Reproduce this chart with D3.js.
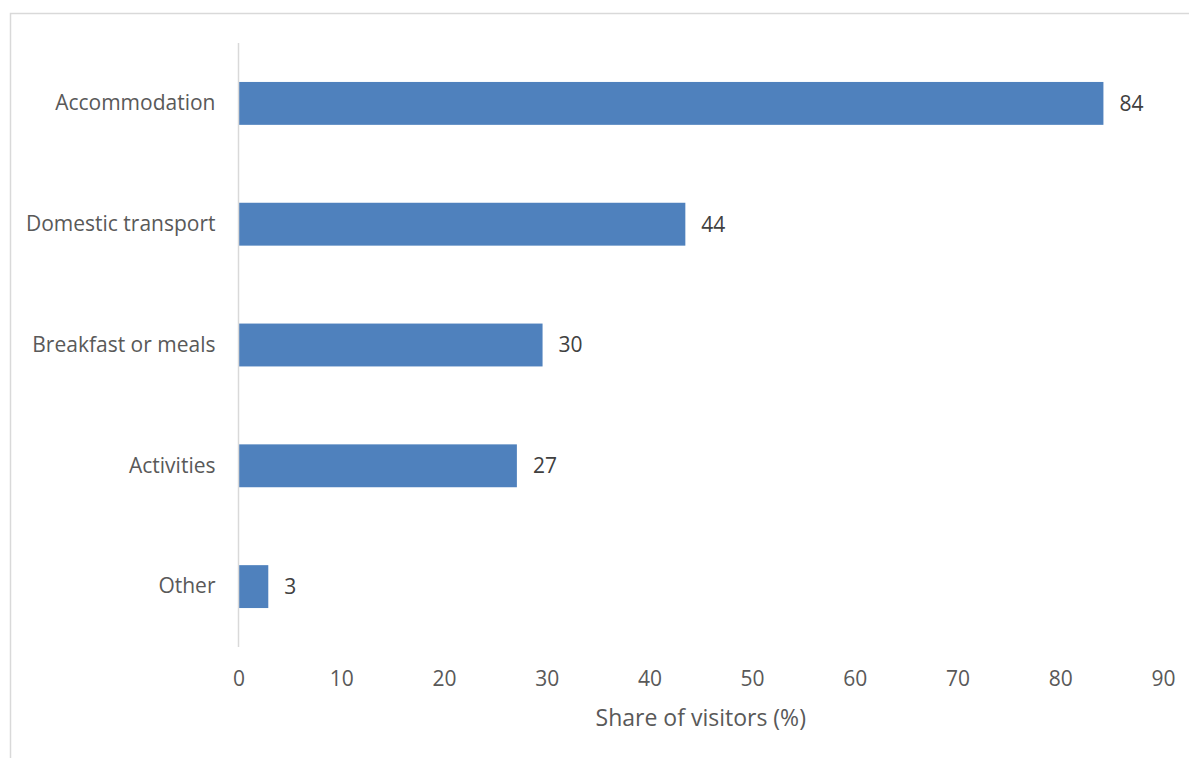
<!DOCTYPE html>
<html>
<head>
<meta charset="utf-8">
<script src="https://cdn.jsdelivr.net/npm/d3@7"></script>
<style>
  html, body { margin: 0; padding: 0; background: #fff; }
  svg { display: block; }
</style>
</head>
<body>
<svg id="chart" width="1189" height="758"></svg>
<script>
const categories = ["Accommodation", "Domestic transport", "Breakfast or meals", "Activities", "Other"];
const values = [84.2, 43.5, 29.6, 27.1, 2.9];
const valueLabels = ["84", "44", "30", "27", "3"];
const xTicks = [0, 10, 20, 30, 40, 50, 60, 70, 80, 90];
const xTitle = "Share of visitors (%)";

(function () {
const svg = d3.select("#chart");
const W = 1189, H = 758;
const font = "'Open Sans', 'Noto Sans', sans-serif";

// outer chart border (extends beyond the visible area)
svg.append("rect")
  .attr("x", 10.5).attr("y", 13.5)
  .attr("width", W + 20).attr("height", H + 20)
  .attr("fill", "none").attr("stroke", "#d9d9d9").attr("stroke-width", 1.5);

const pLeft = 238.5, pRight = 1163, pTop = 43, pBottom = 647;

const x = d3.scaleLinear().domain([0, 90]).range([pLeft, pRight]);
const y = d3.scaleBand().domain(categories).range([pTop, pBottom]).paddingInner(0.645).paddingOuter(0.3225);

// bars
svg.append("g").selectAll("rect").data(categories).join("rect")
  .attr("x", x(0))
  .attr("y", d => y(d))
  .attr("width", (d, i) => x(values[i]) - x(0))
  .attr("height", y.bandwidth())
  .attr("fill", "#4f81bd");

// vertical axis line
svg.append("line")
  .attr("x1", x(0)).attr("x2", x(0))
  .attr("y1", pTop).attr("y2", pBottom)
  .attr("stroke", "#d9d9d9").attr("stroke-width", 1.5);

// category labels
const yAxis = d3.axisLeft(y).tickSize(0).tickPadding(23);
const gy = svg.append("g").attr("transform", `translate(${x(0)},0)`).call(yAxis);
gy.select(".domain").remove();
gy.selectAll("text")
  .attr("font-family", font).attr("font-size", 21).attr("fill", "#595959");

// x tick labels
const xAxis = d3.axisBottom(x).tickValues(xTicks).tickSize(0).tickPadding(24).tickFormat(d3.format("d"));
const gx = svg.append("g").attr("transform", `translate(0,${pBottom})`).call(xAxis);
gx.select(".domain").remove();
gx.selectAll("text")
  .attr("font-family", font).attr("font-size", 21).attr("fill", "#595959");

// value labels
svg.append("g").selectAll("text").data(categories).join("text")
  .attr("x", (d, i) => x(values[i]) + 16)
  .attr("y", d => y(d) + y.bandwidth() / 2)
  .attr("dy", "0.35em")
  .attr("font-family", font).attr("font-size", 21).attr("fill", "#404040")
  .text((d, i) => valueLabels[i]);

// axis title
svg.append("text")
  .attr("x", (pLeft + pRight) / 2)
  .attr("y", 718)
  .attr("dy", "0.35em")
  .attr("text-anchor", "middle")
  .attr("font-family", font).attr("font-size", 23).attr("fill", "#595959")
  .text(xTitle);
})();
</script>
</body>
</html>
